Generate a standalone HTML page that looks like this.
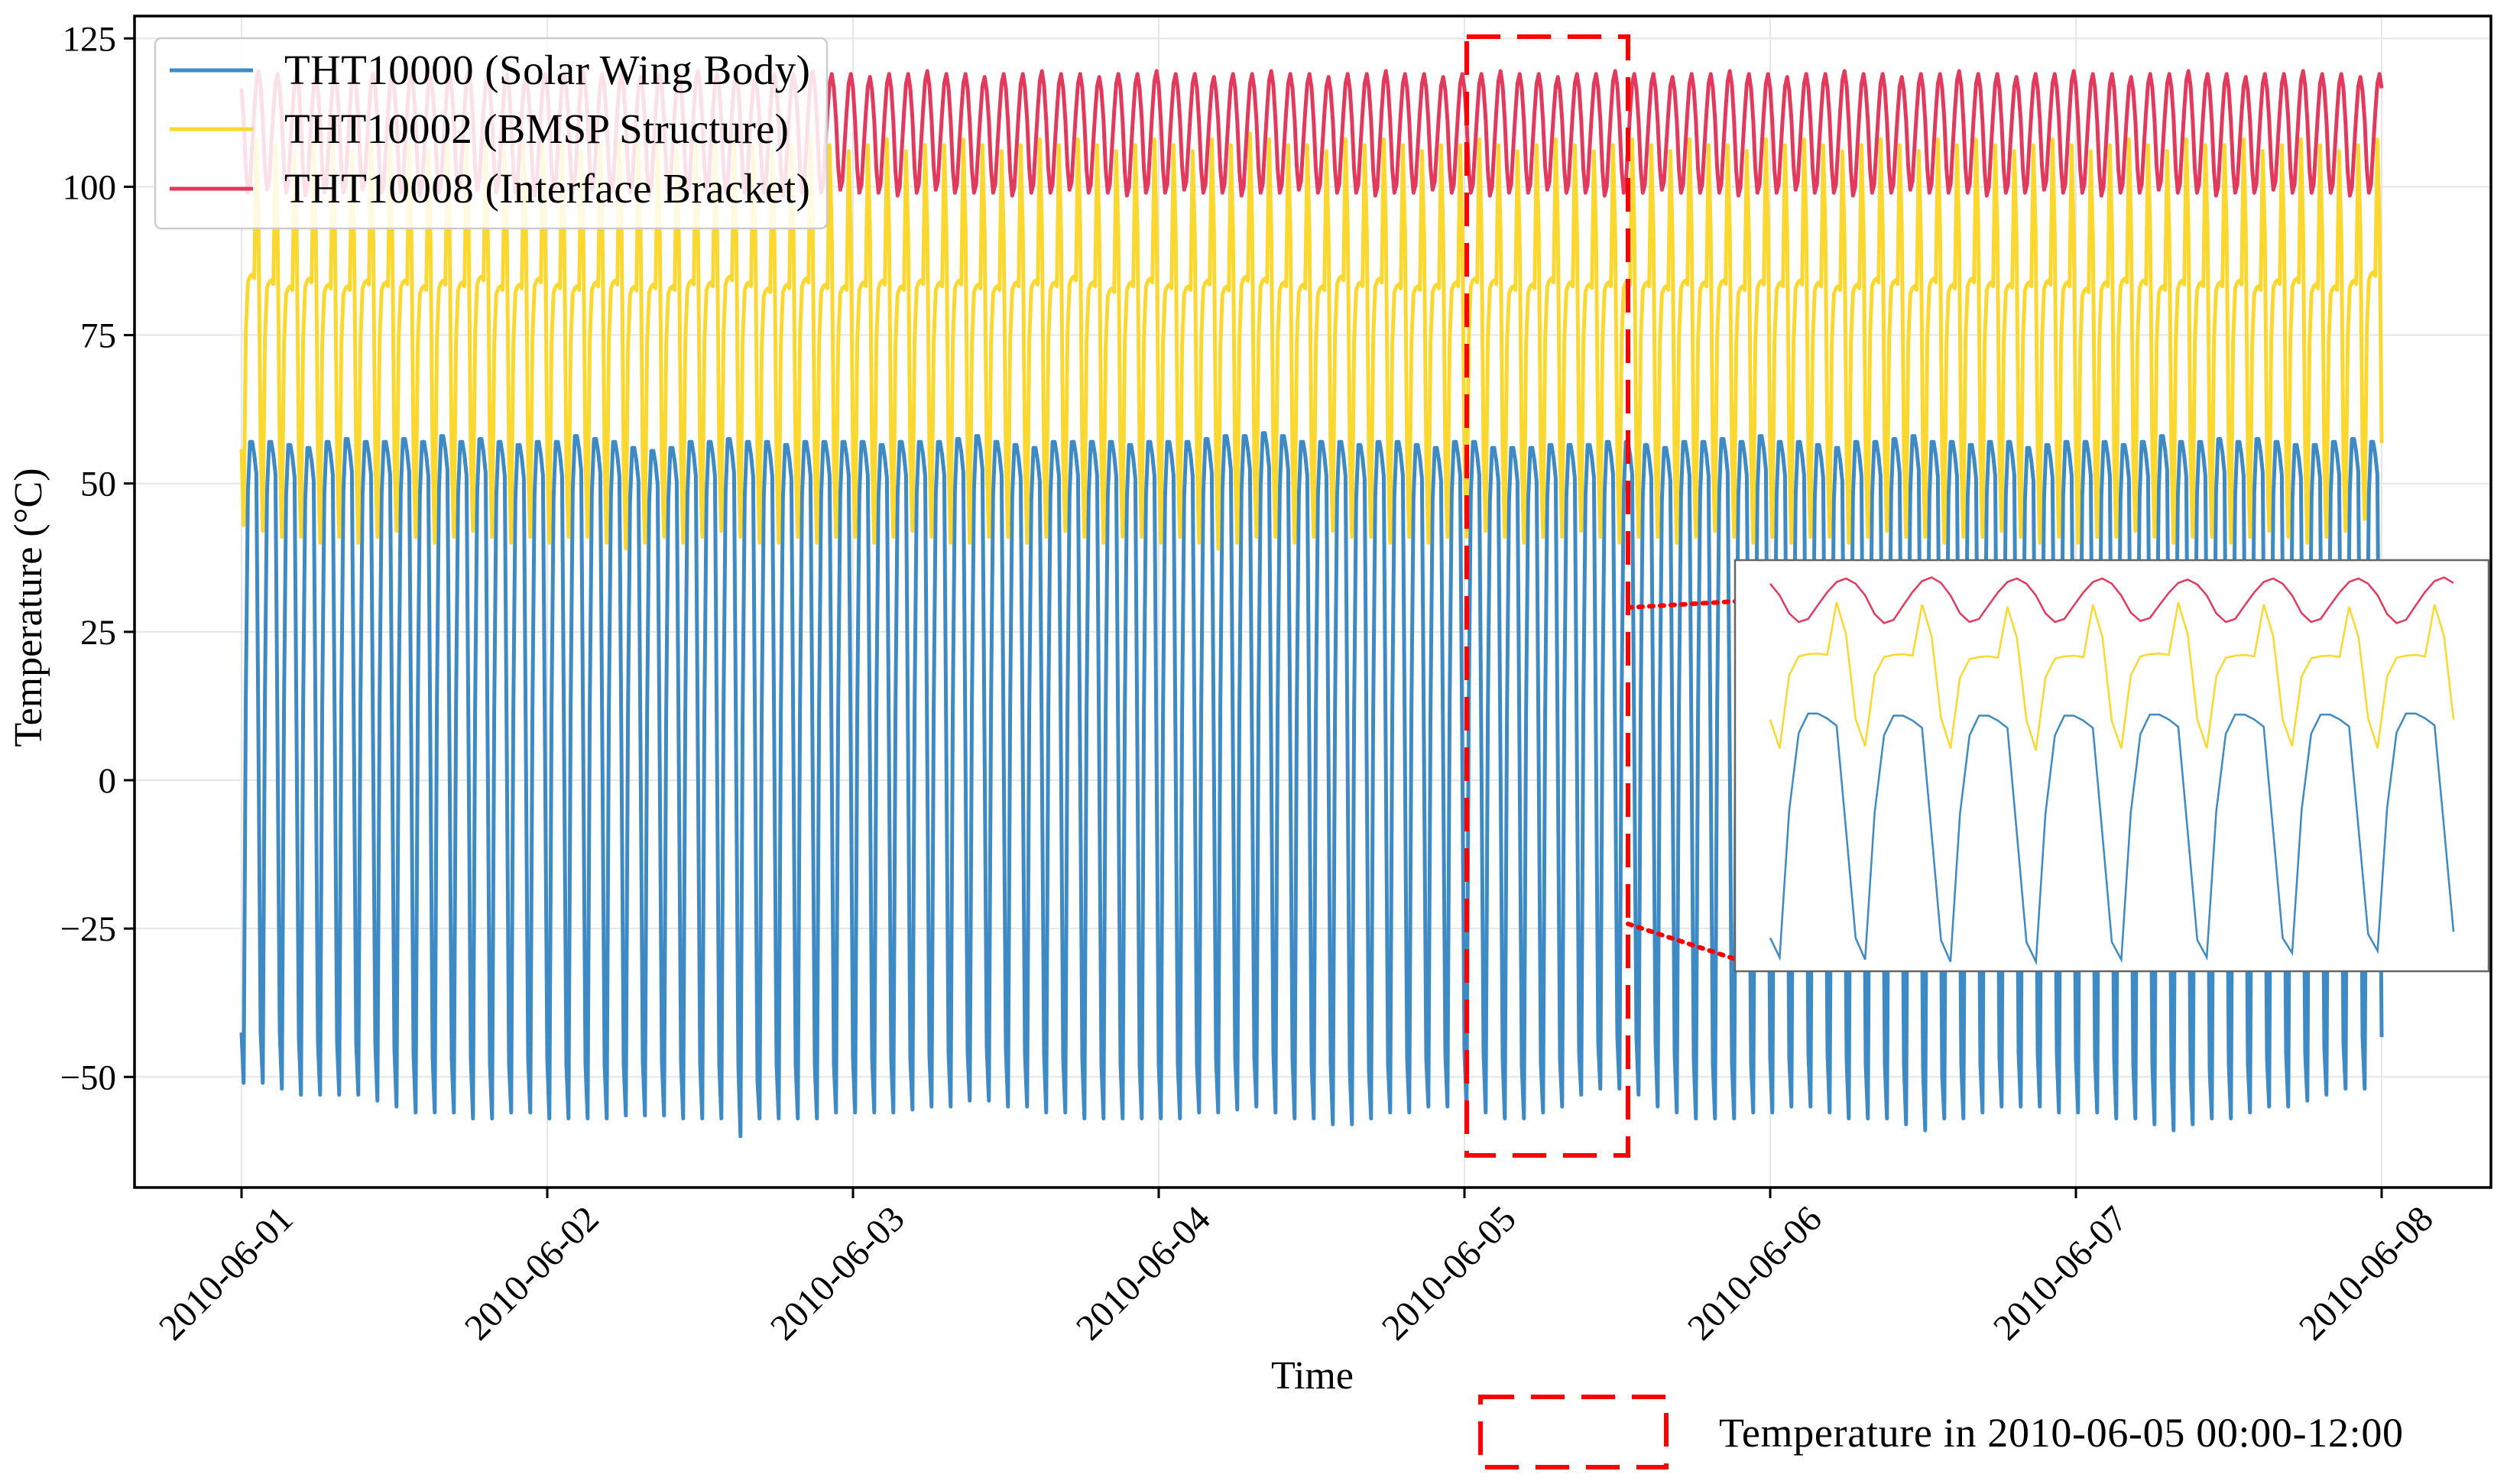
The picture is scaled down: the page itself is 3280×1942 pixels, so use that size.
<!DOCTYPE html>
<html><head><meta charset="utf-8">
<style>
html,body{margin:0;padding:0;background:#fff;}
svg{display:block;font-family:"Liberation Serif",serif;}
</style></head>
<body>
<svg id="chart" width="3280" height="1942" viewBox="0 0 3280 1942" xmlns="http://www.w3.org/2000/svg">
  <defs><clipPath id="plotclip"><rect x="176" y="21" width="3083" height="1533"/></clipPath></defs>
  <rect x="0" y="0" width="3280" height="1942" fill="#fff"/>
  <g id="grid"></g>
  <g id="series" clip-path="url(#plotclip)"></g>
  <rect x="176" y="21" width="3083" height="1533" fill="none" stroke="#000" stroke-width="3.5"/>
  <g id="yticks"></g>
  <g id="xticks"></g>
  <text x="54" y="795" font-size="52" text-anchor="middle" transform="rotate(-90 54 795)">Temperature (°C)</text>
  <text x="1717" y="1817" font-size="52" text-anchor="middle">Time</text>
  <rect x="1919" y="48" width="211" height="1464" fill="none" stroke="#f00" stroke-width="6" stroke-dasharray="44,22"/>
  <line x1="2130" y1="795" x2="2270" y2="787" stroke="#f00" stroke-width="6" stroke-dasharray="5,9" stroke-linecap="round"/>
  <line x1="2130" y1="1209" x2="2270" y2="1255" stroke="#f00" stroke-width="6" stroke-dasharray="5,9" stroke-linecap="round"/>
  <g id="inset">
    <rect x="2270" y="733" width="986" height="538" fill="#fff" stroke="#666" stroke-width="2.5"/>
  </g>
  <g>
    <rect x="203" y="50" width="879" height="249" rx="8" fill="#fff" fill-opacity="0.85" stroke="#ccc" stroke-width="2.5"/>
    <line x1="222" y1="92" x2="331" y2="92" stroke="#3d8ac4" stroke-width="5"/>
    <text x="372" y="110" font-size="55" textLength="688">THT10000 (Solar Wing Body)</text>
    <line x1="222" y1="169" x2="331" y2="169" stroke="#fbd82f" stroke-width="5"/>
    <text x="372" y="187" font-size="55" textLength="660">THT10002 (BMSP Structure)</text>
    <line x1="222" y1="247" x2="331" y2="247" stroke="#e23a5c" stroke-width="5"/>
    <text x="372" y="265" font-size="55" textLength="688">THT10008 (Interface Bracket)</text>
  </g>
  <rect x="1937" y="1828" width="243" height="92" fill="none" stroke="#f00" stroke-width="6" stroke-dasharray="44,22"/>
  <text x="2249" y="1893" font-size="54" textLength="895">Temperature in 2010-06-05 00:00-12:00</text>
</svg>
<script>
const yTicks = [125, 100, 75, 50, 25, 0, -25, -50];
const xTickLabels = ["2010-06-01","2010-06-02","2010-06-03","2010-06-04","2010-06-05","2010-06-06","2010-06-07","2010-06-08"];
// per-orbit extremes (16 orbits/day, 10-min sampling, 9 samples/orbit)
const blueMin = [-51,-51,-51,-52,-53,-53,-53,-53,-54,-55,-56,-56,-56,-57,-57,-56,-56,
-57,-57,-57,-57,-56.5,-56.5,-56.5,-57,-57,-57,-60,-57,-57,-57,-57,-56,
-56,-56,-56,-55.5,-55,-55,-54,-54,-55,-55,-56,-56,-57,-57,-57,-57,
-57,-57,-56,-56,-55.5,-55,-56,-57,-57,-58,-58,-57,-56,-56,-55,-55,
-55,-56,-57,-57,-56,-55,-53,-52,-52,-53,-55,-56,-57,-57,-57,-56,
-56,-55,-55,-56,-57,-57,-57,-58,-59,-57,-57,-56,-55,-55,-55,-56,
-56,-56,-57,-57,-58,-59,-58,-57,-57,-56,-55,-55,-54,-53,-52,-52];
const blueMax = [55,57,57,56.5,56,57,57.5,57,57,57.5,57,58,57,57.5,57,56.5,57,
57,58,57.5,57,56,55.5,56,57,57,57.5,57,57,56.5,57,57,57,
57,56.5,57,57,57,57.5,58,57,56.5,56,57,57,57,57,56.5,57,
57,57,57.5,58,58,58.5,58,57,57,57,56.5,57,57,56.5,56,57,
57,56,56,56,56.5,56.5,56.5,57,57,56.5,56,57,57,57.5,57,58,
57,57,56.5,56,57,57,57.5,58,57,57,56.5,57,57,56,56.5,57,
57,57,56.5,57,58,57,57,57.5,57,57.5,57,56.5,56.5,57,57.5,57];
const yellowMin = [43,43,42,41,41,40,41,40,41,42,41,40,41,42,41,40,41,
40,41,41,40,39,40,41,40,41,42,41,40,40,41,40,41,
41,40,41,42,41,40,40,41,41,40,41,42,41,40,41,41,
40,41,40,39,40,41,41,40,41,42,41,41,40,41,40,41,
41,42,41,40,41,41,42,41,40,41,41,40,41,42,41,40,
41,40,41,41,40,41,42,41,41,40,41,41,42,41,40,41,
40,41,41,42,41,40,41,41,40,41,42,41,40,41,42,44];
const yellowMax = [107,108,107,106,108,107,106,108,107,107,106,108,107,108,106,107,108,
107,106,107,108,107,107,106,108,107,108,107,106,107,108,107,106,
107,108,106,107,107,108,107,106,107,108,107,108,107,106,107,108,
107,106,108,107,109,108,107,107,106,108,107,108,107,106,107,107,
108,107,106,107,108,107,106,107,108,107,106,108,107,107,106,108,
107,108,107,106,107,108,107,106,108,107,108,107,106,107,108,107,
106,107,108,107,106,108,107,107,108,106,107,108,107,106,107,108];
const redMin = [99,99,99.5,99,98.5,99,99,99.5,99,99,98.5,99,99,99.5,99,99,98.5,
99,99,99.5,99,99,98.5,99,99,99.5,99,99,99,98.5,99,99,99.5,
99,99,98.5,99,99.5,99,99,99,98.5,99,99,99.5,99,99,98.5,99,
99,99.5,99,99,98.5,99,99,99.5,99,99,99,98.5,99,99,99.5,99,
99,98.5,99,99,99.5,99,99,98.5,99,99,99.5,99,99,99,98.5,99,
99,99.5,99,99,98.5,99,99,99.5,99,99,99,98.5,99,99,99.5,99,
99,98.5,99,99,99.5,99,99,98.5,99,99,99.5,99,99,99,98.5,99];
const redMax = [119,119.5,119,119,118.5,119,119.5,119,119,119,118.5,119,119.5,119,119,118.5,119,
119,119.5,119,119,118.5,119,119,119.5,119,119,118.5,119,119,119.5,119,119,
118.5,119,119,119.5,119,119,118.5,119,119,119.5,119,119,118.5,119,119,119.5,
119,119,118.5,119,119,119.5,119,119,118.5,119,119,119.5,119,119,118.5,119,
119,119.5,119,119,118.5,119,119,119.5,119,119,118.5,119,119,119.5,119,119,
118.5,119,119,119.5,119,119,118.5,119,119,119.5,119,119,118.5,119,119,119.5,
119,119,118.5,119,119,119.5,119,119,118.5,119,119,119.5,119,119,118.5,119];
// normalized within-orbit profiles (9 samples per orbit)
const blueProfile = [0, 0.6, 0.92, 1.0, 1.0, 0.98, 0.95, 0.52, 0.08];
const yellowProfile = [0, 0.5, 0.63, 0.645, 0.65, 0.64, 1.0, 0.78, 0.2];
const redProfile = [0.61, 0.2, 0, 0.07, 0.38, 0.68, 0.92, 1.0, 0.88];

const NS = "http://www.w3.org/2000/svg";
const X0 = 316, DAY = 400, SPD = 144, Y0 = 1021, PPU = 7.766;
const xScale = i => X0 + i * DAY / SPD;
const yScale = v => Y0 - v * PPU;
const nSamples = 7 * SPD + 1;

function sampleValue(mins, maxs, prof, i) {
  const k = Math.floor((i + 8) / 9), p = (i + 8) % 9;
  return mins[k] + prof[p] * (maxs[k] - mins[k]);
}
function mk(tag, attrs, parent) {
  const e = document.createElementNS(NS, tag);
  for (const a in attrs) e.setAttribute(a, attrs[a]);
  parent.appendChild(e);
  return e;
}
const grid = document.getElementById('grid');
const yt = document.getElementById('yticks');
yTicks.forEach(v => {
  const y = yScale(v);
  const g = mk('line', {x1:176, x2:3259, y1:y, y2:y, stroke:'#e6e6e6', 'stroke-width':2}, grid);
  
  
  const t = mk('line', {x1:162, x2:176, y1:y, y2:y, stroke:'#000', 'stroke-width':3}, yt);
  
  
  const l = mk('text', {x:152, y:y + 16, 'font-size':47, 'text-anchor':'end'}, yt);
  l.textContent = v < 0 ? '\u2212' + Math.abs(v) : String(v);
  
  
});
const xt = document.getElementById('xticks');
xTickLabels.forEach((s, d) => {
  const x = xScale(d * SPD);
  const g = mk('line', {x1:x, x2:x, y1:21, y2:1554, stroke:'#e6e6e6', 'stroke-width':2}, grid);
  
  
  const t = mk('line', {x1:x, x2:x, y1:1554, y2:1568, stroke:'#000', 'stroke-width':3}, xt);
  
  
  const lx = x + 70, ly = 1598;
  const l = mk('text', {x:lx, y:ly, 'font-size':48, 'text-anchor':'end', transform:'rotate(-45 ' + lx + ' ' + ly + ')'}, xt);
  l.textContent = s;
  
  
});

const seriesDefs = [
  {name:'line-tht10000', mins:blueMin, maxs:blueMax, prof:blueProfile, color:'#3d8ac4'},
  {name:'line-tht10002', mins:yellowMin, maxs:yellowMax, prof:yellowProfile, color:'#fbd82f'},
  {name:'line-tht10008', mins:redMin, maxs:redMax, prof:redProfile, color:'#e23a5c'}
];
const sg = document.getElementById('series');
const ig = document.getElementById('inset');
const I0 = 4 * SPD, IN = 72, IX0 = 2316, IW = 894;
const ixScale = j => IX0 + (j - I0) * IW / IN;
const iyScale = v => 757 + (119 - v) * 2.85;
seriesDefs.forEach(s => {
  let d = '';
  for (let i = 0; i < nSamples; i++) {
    const v = sampleValue(s.mins, s.maxs, s.prof, i);
    d += (i ? 'L' : 'M') + xScale(i).toFixed(1) + ' ' + yScale(v).toFixed(1);
  }
  const p = mk('path', {d:d, fill:'none', stroke:s.color, 'stroke-width':5, 'stroke-linejoin':'round'}, sg);
  
  
  let di = '';
  for (let j = I0; j <= I0 + IN; j++) {
    const v = sampleValue(s.mins, s.maxs, s.prof, j);
    di += (j === I0 ? 'M' : 'L') + ixScale(j).toFixed(1) + ' ' + iyScale(v).toFixed(1);
  }
  const q = mk('path', {d:di, fill:'none', stroke:s.color, 'stroke-width':2.5}, ig);
  
  
});
</script>
</body></html>
